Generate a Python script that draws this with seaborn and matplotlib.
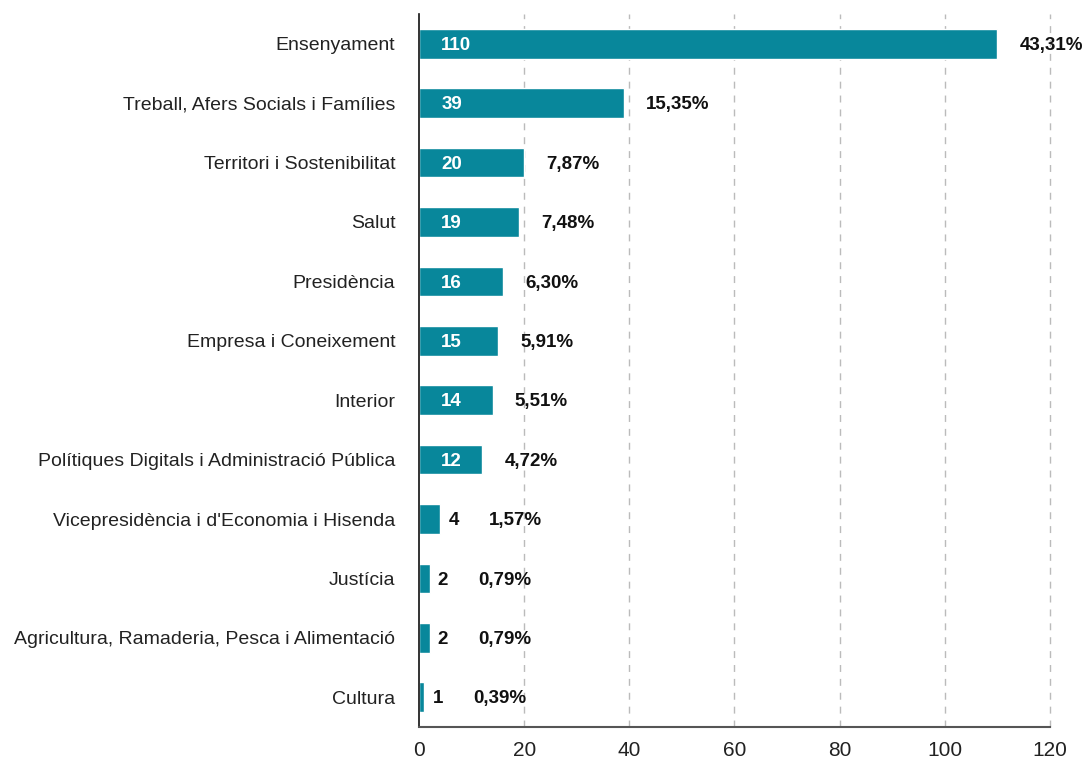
import matplotlib
matplotlib.use("Agg")
import matplotlib.pyplot as plt
import seaborn as sns
import pandas as pd

departments = [
    "Ensenyament",
    "Treball, Afers Socials i Famílies",
    "Territori i Sostenibilitat",
    "Salut",
    "Presidència",
    "Empresa i Coneixement",
    "Interior",
    "Polítiques Digitals i Administració Pública",
    "Vicepresidència i d'Economia i Hisenda",
    "Justícia",
    "Agricultura, Ramaderia, Pesca i Alimentació",
    "Cultura",
]
counts = [110, 39, 20, 19, 16, 15, 14, 12, 4, 2, 2, 1]
percent_labels = ["43,31%", "15,35%", "7,87%", "7,48%", "6,30%", "5,91%",
                  "5,51%", "4,72%", "1,57%", "0,79%", "0,79%", "0,39%"]
x_ticks = [0, 20, 40, 60, 80, 100, 120]

df = pd.DataFrame({"department": departments, "count": counts})

sns.set_theme(style="white")
plt.rcParams["font.family"] = ["Liberation Sans", "DejaVu Sans"]

BAR_COLOR = "#08879b"

fig = plt.figure(figsize=(10.9, 7.6), dpi=100)
ax = fig.add_axes([0.3844, 0.0434, 0.9633 - 0.3844, 0.9816 - 0.0434])

sns.barplot(data=df, x="count", y="department", color=BAR_COLOR,
            saturation=1, width=0.5, ax=ax, orient="h")

ax.set_xlim(0, 120)
ax.set_ylim(len(departments) - 0.5, -0.5)
ax.set_xticks(x_ticks)
ax.set_xlabel("")
ax.set_ylabel("")
ax.tick_params(axis="x", labelsize=15, colors="#555555", labelcolor="#222222",
               direction="in", length=3, width=1, pad=10)
ax.tick_params(axis="y", labelsize=14, labelcolor="#222222", length=0, pad=17)

for gx in x_ticks[1:]:
    ax.axvline(gx, color="#bbbbbb", linestyle=(0, (5, 5)), linewidth=1,
               zorder=0, clip_on=False)

for side in ["top", "right"]:
    ax.spines[side].set_visible(False)
ax.spines["left"].set_color("#111111")
ax.spines["left"].set_linewidth(1.2)
ax.spines["bottom"].set_color("#555555")
ax.spines["bottom"].set_linewidth(1.5)

LABEL_SIZE = 13.5
DY = -1.2
for i, (val, pct) in enumerate(zip(counts, percent_labels)):
    if val >= 10:
        ax.annotate(str(val), xy=(0, i), xytext=(16, DY), textcoords="offset points",
                    ha="left", va="center", color="white", fontsize=LABEL_SIZE,
                    fontweight="bold")
        ax.annotate(pct, xy=(val, i), xytext=(16, DY), textcoords="offset points",
                    ha="left", va="center", color="#111111", fontsize=LABEL_SIZE,
                    fontweight="bold", annotation_clip=False)
    else:
        ax.annotate(str(val), xy=(val, i), xytext=(6, DY), textcoords="offset points",
                    ha="left", va="center", color="#111111", fontsize=LABEL_SIZE,
                    fontweight="bold")
        ax.annotate(pct, xy=(val, i), xytext=(35, DY), textcoords="offset points",
                    ha="left", va="center", color="#111111", fontsize=LABEL_SIZE,
                    fontweight="bold")

fig.savefig("out.png", dpi=100)
